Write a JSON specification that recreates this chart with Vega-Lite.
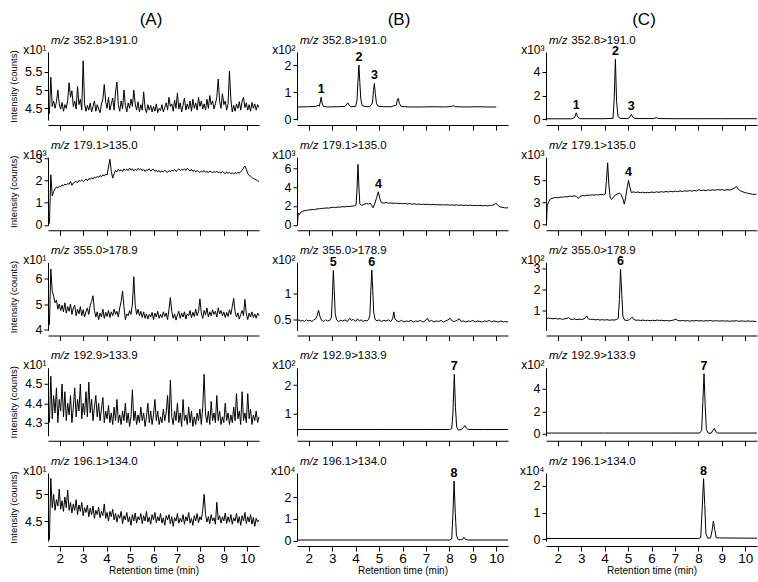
{
"$schema":"https://vega.github.io/schema/vega-lite/v6.json",
"padding":{"left":8,"top":10,"right":2,"bottom":5},
"background":"white",
"config":{
 "font":"Liberation Sans",
 "view":{"stroke":null},
 "mark":{"color":"#000"},
 "line":{"strokeWidth":1,"color":"#000"},
 "text":{"fontWeight":"bold","fontSize":12.5,"baseline":"alphabetic","dy":-4,"align":"center","color":"#000"},
 "axis":{"grid":false,"domainColor":"#000","tickColor":"#000","labelColor":"#000","titleColor":"#000","titleFontWeight":"normal","domainWidth":1,"tickWidth":1},
 "axisX":{"offset":5,"tickSize":5,"labelFontSize":13.5,"labelPadding":0,"titleFontSize":10,"titlePadding":1},
 "axisY":{"tickSize":4,"labelFontSize":12.5,"labelPadding":2,"format":"~g","titleFontSize":12},
 "title":{"anchor":"start","frame":"group","fontSize":11.5,"fontStyle":"italic","fontWeight":"normal","color":"#000","subtitleFontSize":11.5,"subtitleFontStyle":"normal","subtitleColor":"#000","subtitlePadding":-11.5,"dx":3,"offset":-3}
},
"spacing":9,
"hconcat":[
{"title":{"text":"(A)","anchor":"middle","fontSize":17,"fontStyle":"normal","dx":103,"offset":6,"frame":"group"},
 "spacing":37.25,"bounds":"flush",
 "vconcat":[
 {"width":211,"height":68,"title":{"text":"m/z","subtitle":"\u200b\u00a0\u00a0\u00a0\u00a0\u00a0\u00a0\u00a0352.8>191.0"},
  "encoding":{"x":{"field":"t","type":"quantitative","scale":{"domain":[1.5,10.5],"nice":false,"zero":false},"axis":{"values":[2,3,4,5,6,7,8,9,10],"labels":false,"title":null}}},
  "layer":[
   {"data":{"name":"a1"},"mark":"line","encoding":{"y":{"field":"v","type":"quantitative","scale":{"domain":[4.18,6.04],"nice":false,"zero":false},"axis":{"values":[4.5,5,5.5],"title":"x10¹","titleAngle":0,"titleAlign":"right","titleBaseline":"alphabetic","titleX":-2,"titleY":1}}}},
   {"data":{"name":"a1"},"mark":{"type":"line","strokeOpacity":0},"encoding":{"y":{"field":"v","type":"quantitative","scale":{"domain":[4.18,6.04],"nice":false,"zero":false},"axis":{"orient":"left","title":"Intensity (counts)","labels":false,"ticks":false,"domain":false,"titleAngle":-90,"titleX":-30,"titleY":34,"titleAlign":"center","titleBaseline":"bottom","titleFontSize":9.5}}}}
  ],
  "resolve":{"axis":{"y":"independent"}}},
 {"width":211,"height":68,"title":{"text":"m/z","subtitle":"\u200b\u00a0\u00a0\u00a0\u00a0\u00a0\u00a0\u00a0179.1>135.0"},
  "encoding":{"x":{"field":"t","type":"quantitative","scale":{"domain":[1.5,10.5],"nice":false,"zero":false},"axis":{"values":[2,3,4,5,6,7,8,9,10],"labels":false,"title":null}}},
  "layer":[
   {"data":{"name":"a2"},"mark":"line","encoding":{"y":{"field":"v","type":"quantitative","scale":{"domain":[-0.02,3.04],"nice":false,"zero":false},"axis":{"values":[0,1,2,3],"title":"x10³","titleAngle":0,"titleAlign":"right","titleBaseline":"alphabetic","titleX":-2,"titleY":1}}}},
   {"data":{"name":"a2"},"mark":{"type":"line","strokeOpacity":0},"encoding":{"y":{"field":"v","type":"quantitative","scale":{"domain":[-0.02,3.04],"nice":false,"zero":false},"axis":{"orient":"left","title":"Intensity (counts)","labels":false,"ticks":false,"domain":false,"titleAngle":-90,"titleX":-30,"titleY":34,"titleAlign":"center","titleBaseline":"bottom","titleFontSize":9.5}}}}
  ],
  "resolve":{"axis":{"y":"independent"}}},
 {"width":211,"height":68,"title":{"text":"m/z","subtitle":"\u200b\u00a0\u00a0\u00a0\u00a0\u00a0\u00a0\u00a0355.0>178.9"},
  "encoding":{"x":{"field":"t","type":"quantitative","scale":{"domain":[1.5,10.5],"nice":false,"zero":false},"axis":{"values":[2,3,4,5,6,7,8,9,10],"labels":false,"title":null}}},
  "layer":[
   {"data":{"name":"a3"},"mark":"line","encoding":{"y":{"field":"v","type":"quantitative","scale":{"domain":[3.98,6.6],"nice":false,"zero":false},"axis":{"values":[4,5,6],"title":"x10¹","titleAngle":0,"titleAlign":"right","titleBaseline":"alphabetic","titleX":-2,"titleY":1}}}},
   {"data":{"name":"a3"},"mark":{"type":"line","strokeOpacity":0},"encoding":{"y":{"field":"v","type":"quantitative","scale":{"domain":[3.98,6.6],"nice":false,"zero":false},"axis":{"orient":"left","title":"Intensity (counts)","labels":false,"ticks":false,"domain":false,"titleAngle":-90,"titleX":-30,"titleY":34,"titleAlign":"center","titleBaseline":"bottom","titleFontSize":9.5}}}}
  ],
  "resolve":{"axis":{"y":"independent"}}},
 {"width":211,"height":68,"title":{"text":"m/z","subtitle":"\u200b\u00a0\u00a0\u00a0\u00a0\u00a0\u00a0\u00a0192.9>133.9"},
  "encoding":{"x":{"field":"t","type":"quantitative","scale":{"domain":[1.5,10.5],"nice":false,"zero":false},"axis":{"values":[2,3,4,5,6,7,8,9,10],"labels":false,"title":null}}},
  "layer":[
   {"data":{"name":"a4"},"mark":"line","encoding":{"y":{"field":"v","type":"quantitative","scale":{"domain":[4.232,4.584],"nice":false,"zero":false},"axis":{"values":[4.3,4.4,4.5],"title":"x10¹","titleAngle":0,"titleAlign":"right","titleBaseline":"alphabetic","titleX":-2,"titleY":1}}}},
   {"data":{"name":"a4"},"mark":{"type":"line","strokeOpacity":0},"encoding":{"y":{"field":"v","type":"quantitative","scale":{"domain":[4.232,4.584],"nice":false,"zero":false},"axis":{"orient":"left","title":"Intensity (counts)","labels":false,"ticks":false,"domain":false,"titleAngle":-90,"titleX":-30,"titleY":34,"titleAlign":"center","titleBaseline":"bottom","titleFontSize":9.5}}}}
  ],
  "resolve":{"axis":{"y":"independent"}}},
 {"width":211,"height":68,"title":{"text":"m/z","subtitle":"\u200b\u00a0\u00a0\u00a0\u00a0\u00a0\u00a0\u00a0196.1>134.0"},
  "encoding":{"x":{"field":"t","type":"quantitative","scale":{"domain":[1.5,10.5],"nice":false,"zero":false},"axis":{"values":[2,3,4,5,6,7,8,9,10],"title":"Retention time (min)"}}},
  "layer":[
   {"data":{"name":"a5"},"mark":"line","encoding":{"y":{"field":"v","type":"quantitative","scale":{"domain":[4.125,5.4],"nice":false,"zero":false},"axis":{"values":[4.5,5],"title":"x10¹","titleAngle":0,"titleAlign":"right","titleBaseline":"alphabetic","titleX":-2,"titleY":1}}}},
   {"data":{"name":"a5"},"mark":{"type":"line","strokeOpacity":0},"encoding":{"y":{"field":"v","type":"quantitative","scale":{"domain":[4.125,5.4],"nice":false,"zero":false},"axis":{"orient":"left","title":"Intensity (counts)","labels":false,"ticks":false,"domain":false,"titleAngle":-90,"titleX":-30,"titleY":34,"titleAlign":"center","titleBaseline":"bottom","titleFontSize":9.5}}}}
  ],
  "resolve":{"axis":{"y":"independent"}}}
 ]},
{"title":{"text":"(B)","anchor":"middle","fontSize":17,"fontStyle":"normal","dx":102,"offset":6,"frame":"group"},
 "spacing":37.25,"bounds":"flush",
 "vconcat":[
 {"width":211,"height":68,"title":{"text":"m/z","subtitle":"\u200b\u00a0\u00a0\u00a0\u00a0\u00a0\u00a0\u00a0352.8>191.0"},
  "encoding":{"x":{"field":"t","type":"quantitative","scale":{"domain":[1.5,10.5],"nice":false,"zero":false},"axis":{"values":[2,3,4,5,6,7,8,9,10],"labels":false,"title":null}},
   "y":{"field":"v","type":"quantitative","scale":{"domain":[-0.03,2.48],"nice":false,"zero":false},"axis":{"values":[0,1,2],"title":"x10²","titleAngle":0,"titleAlign":"right","titleBaseline":"alphabetic","titleX":-2,"titleY":1}}},
  "layer":[{"data":{"name":"b1"},"mark":"line"},{"data":{"name":"b1L"},"mark":"text","encoding":{"text":{"field":"lab"}}}]},
 {"width":211,"height":68,"title":{"text":"m/z","subtitle":"\u200b\u00a0\u00a0\u00a0\u00a0\u00a0\u00a0\u00a0179.1>135.0"},
  "encoding":{"x":{"field":"t","type":"quantitative","scale":{"domain":[1.5,10.5],"nice":false,"zero":false},"axis":{"values":[2,3,4,5,6,7,8,9,10],"labels":false,"title":null}},
   "y":{"field":"v","type":"quantitative","scale":{"domain":[-0.05,7.15],"nice":false,"zero":false},"axis":{"values":[0,2,4,6],"title":"x10³","titleAngle":0,"titleAlign":"right","titleBaseline":"alphabetic","titleX":-2,"titleY":1}}},
  "layer":[{"data":{"name":"b2"},"mark":"line"},{"data":{"name":"b2L"},"mark":"text","encoding":{"text":{"field":"lab"}}}]},
 {"width":211,"height":68,"title":{"text":"m/z","subtitle":"\u200b\u00a0\u00a0\u00a0\u00a0\u00a0\u00a0\u00a0355.0>178.9"},
  "encoding":{"x":{"field":"t","type":"quantitative","scale":{"domain":[1.5,10.5],"nice":false,"zero":false},"axis":{"values":[2,3,4,5,6,7,8,9,10],"labels":false,"title":null}},
   "y":{"field":"v","type":"quantitative","scale":{"domain":[0.3,1.58],"nice":false,"zero":false},"axis":{"values":[0.5,1],"title":"x10²","titleAngle":0,"titleAlign":"right","titleBaseline":"alphabetic","titleX":-2,"titleY":1}}},
  "layer":[{"data":{"name":"b3"},"mark":"line"},{"data":{"name":"b3L"},"mark":"text","encoding":{"text":{"field":"lab"}}}]},
 {"width":211,"height":68,"title":{"text":"m/z","subtitle":"\u200b\u00a0\u00a0\u00a0\u00a0\u00a0\u00a0\u00a0192.9>133.9"},
  "encoding":{"x":{"field":"t","type":"quantitative","scale":{"domain":[1.5,10.5],"nice":false,"zero":false},"axis":{"values":[2,3,4,5,6,7,8,9,10],"labels":false,"title":null}},
   "y":{"field":"v","type":"quantitative","scale":{"domain":[0.21,2.61],"nice":false,"zero":false},"axis":{"values":[1,2],"title":"x10²","titleAngle":0,"titleAlign":"right","titleBaseline":"alphabetic","titleX":-2,"titleY":1}}},
  "layer":[{"data":{"name":"b4"},"mark":"line"},{"data":{"name":"b4L"},"mark":"text","encoding":{"text":{"field":"lab"}}}]},
 {"width":211,"height":68,"title":{"text":"m/z","subtitle":"\u200b\u00a0\u00a0\u00a0\u00a0\u00a0\u00a0\u00a0196.1>134.0"},
  "encoding":{"x":{"field":"t","type":"quantitative","scale":{"domain":[1.5,10.5],"nice":false,"zero":false},"axis":{"values":[2,3,4,5,6,7,8,9,10],"title":"Retention time (min)"}},
   "y":{"field":"v","type":"quantitative","scale":{"domain":[-0.015,3.12],"nice":false,"zero":false},"axis":{"values":[0,1,2],"title":"x10⁴","titleAngle":0,"titleAlign":"right","titleBaseline":"alphabetic","titleX":-2,"titleY":1}}},
  "layer":[{"data":{"name":"b5"},"mark":"line"},{"data":{"name":"b5L"},"mark":"text","encoding":{"text":{"field":"lab"}}}]}
 ]},
{"title":{"text":"(C)","anchor":"middle","fontSize":17,"fontStyle":"normal","dx":98,"offset":6,"frame":"group"},
 "spacing":37.25,"bounds":"flush",
 "vconcat":[
 {"width":211,"height":68,"title":{"text":"m/z","subtitle":"\u200b\u00a0\u00a0\u00a0\u00a0\u00a0\u00a0\u00a0352.8>191.0"},
  "encoding":{"x":{"field":"t","type":"quantitative","scale":{"domain":[1.5,10.5],"nice":false,"zero":false},"axis":{"values":[2,3,4,5,6,7,8,9,10],"labels":false,"title":null}},
   "y":{"field":"v","type":"quantitative","scale":{"domain":[-0.06,5.66],"nice":false,"zero":false},"axis":{"values":[0,2,4],"title":"x10³","titleAngle":0,"titleAlign":"right","titleBaseline":"alphabetic","titleX":-2,"titleY":1}}},
  "layer":[{"data":{"name":"c1"},"mark":"line"},{"data":{"name":"c1L"},"mark":"text","encoding":{"text":{"field":"lab"}}}]},
 {"width":211,"height":68,"title":{"text":"m/z","subtitle":"\u200b\u00a0\u00a0\u00a0\u00a0\u00a0\u00a0\u00a0179.1>135.0"},
  "encoding":{"x":{"field":"t","type":"quantitative","scale":{"domain":[1.5,10.5],"nice":false,"zero":false},"axis":{"values":[2,3,4,5,6,7,8,9,10],"labels":false,"title":null}},
   "y":{"field":"v","type":"quantitative","scale":{"domain":[-0.1,7.63],"nice":false,"zero":false},"axis":{"values":[0,2.5,5],"title":"x10³","titleAngle":0,"titleAlign":"right","titleBaseline":"alphabetic","titleX":-2,"titleY":1}}},
  "layer":[{"data":{"name":"c2"},"mark":"line"},{"data":{"name":"c2L"},"mark":"text","encoding":{"text":{"field":"lab"}}}]},
 {"width":211,"height":68,"title":{"text":"m/z","subtitle":"\u200b\u00a0\u00a0\u00a0\u00a0\u00a0\u00a0\u00a0355.0>178.9"},
  "encoding":{"x":{"field":"t","type":"quantitative","scale":{"domain":[1.5,10.5],"nice":false,"zero":false},"axis":{"values":[2,3,4,5,6,7,8,9,10],"labels":false,"title":null}},
   "y":{"field":"v","type":"quantitative","scale":{"domain":[0.02,3.28],"nice":false,"zero":false},"axis":{"values":[1,2,3],"title":"x10²","titleAngle":0,"titleAlign":"right","titleBaseline":"alphabetic","titleX":-2,"titleY":1}}},
  "layer":[{"data":{"name":"c3"},"mark":"line"},{"data":{"name":"c3L"},"mark":"text","encoding":{"text":{"field":"lab"}}}]},
 {"width":211,"height":68,"title":{"text":"m/z","subtitle":"\u200b\u00a0\u00a0\u00a0\u00a0\u00a0\u00a0\u00a0192.9>133.9"},
  "encoding":{"x":{"field":"t","type":"quantitative","scale":{"domain":[1.5,10.5],"nice":false,"zero":false},"axis":{"values":[2,3,4,5,6,7,8,9,10],"labels":false,"title":null}},
   "y":{"field":"v","type":"quantitative","scale":{"domain":[-0.16,5.88],"nice":false,"zero":false},"axis":{"values":[0,2,4],"title":"x10²","titleAngle":0,"titleAlign":"right","titleBaseline":"alphabetic","titleX":-2,"titleY":1}}},
  "layer":[{"data":{"name":"c4"},"mark":"line"},{"data":{"name":"c4L"},"mark":"text","encoding":{"text":{"field":"lab"}}}]},
 {"width":211,"height":68,"title":{"text":"m/z","subtitle":"\u200b\u00a0\u00a0\u00a0\u00a0\u00a0\u00a0\u00a0196.1>134.0"},
  "encoding":{"x":{"field":"t","type":"quantitative","scale":{"domain":[1.5,10.5],"nice":false,"zero":false},"axis":{"values":[2,3,4,5,6,7,8,9,10],"title":"Retention time (min)"}},
   "y":{"field":"v","type":"quantitative","scale":{"domain":[-0.075,2.49],"nice":false,"zero":false},"axis":{"values":[0,1,2],"title":"x10⁴","titleAngle":0,"titleAlign":"right","titleBaseline":"alphabetic","titleX":-2,"titleY":1}}},
  "layer":[{"data":{"name":"c5"},"mark":"line"},{"data":{"name":"c5L"},"mark":"text","encoding":{"text":{"field":"lab"}}}]}
 ]}
],
"datasets":{
"a1":[{"t":1.56,"v":4.35},{"t":1.62,"v":5.35},{"t":1.68,"v":4.55},{"t":1.74,"v":4.7},{"t":1.8,"v":4.5},{"t":1.86,"v":4.68},{"t":1.92,"v":5},{"t":1.98,"v":4.62},{"t":2.04,"v":4.48},{"t":2.1,"v":4.66},
{"t":2.16,"v":4.42},{"t":2.22,"v":4.6},{"t":2.28,"v":4.5},{"t":2.34,"v":4.72},{"t":2.4,"v":5.2},{"t":2.46,"v":4.8},{"t":2.52,"v":4.98},{"t":2.58,"v":4.55},{"t":2.64,"v":4.7},{"t":2.7,"v":4.48},
{"t":2.76,"v":5.1},{"t":2.82,"v":4.6},{"t":2.88,"v":4.75},{"t":2.94,"v":4.45},{"t":3,"v":5.8},{"t":3.06,"v":4.62},{"t":3.12,"v":4.42},{"t":3.18,"v":4.58},{"t":3.24,"v":4.45},{"t":3.3,"v":4.64},
{"t":3.36,"v":4.4},{"t":3.42,"v":4.55},{"t":3.48,"v":4.7},{"t":3.54,"v":4.42},{"t":3.6,"v":4.6},{"t":3.66,"v":4.48},{"t":3.72,"v":4.38},{"t":3.78,"v":4.62},{"t":3.84,"v":4.75},{"t":3.9,"v":5.15},
{"t":3.96,"v":4.68},{"t":4.02,"v":4.5},{"t":4.08,"v":4.8},{"t":4.14,"v":4.45},{"t":4.2,"v":4.62},{"t":4.26,"v":4.78},{"t":4.32,"v":4.45},{"t":4.38,"v":4.95},{"t":4.44,"v":5.22},{"t":4.5,"v":4.6},
{"t":4.56,"v":4.42},{"t":4.62,"v":4.7},{"t":4.68,"v":4.48},{"t":4.74,"v":5},{"t":4.8,"v":4.58},{"t":4.86,"v":4.4},{"t":4.92,"v":4.65},{"t":4.98,"v":4.5},{"t":5.04,"v":4.75},{"t":5.1,"v":4.55},
{"t":5.16,"v":5},{"t":5.22,"v":4.62},{"t":5.28,"v":4.45},{"t":5.34,"v":4.68},{"t":5.4,"v":4.4},{"t":5.46,"v":4.6},{"t":5.52,"v":4.45},{"t":5.58,"v":4.95},{"t":5.64,"v":4.52},{"t":5.7,"v":4.38},
{"t":5.76,"v":4.6},{"t":5.82,"v":4.45},{"t":5.88,"v":4.58},{"t":5.94,"v":4.4},{"t":6,"v":4.55},{"t":6.06,"v":4.42},{"t":6.12,"v":4.62},{"t":6.18,"v":4.38},{"t":6.24,"v":4.5},{"t":6.3,"v":4.44},
{"t":6.36,"v":4.6},{"t":6.42,"v":4.4},{"t":6.48,"v":4.52},{"t":6.54,"v":4.65},{"t":6.6,"v":4.45},{"t":6.66,"v":4.8},{"t":6.72,"v":4.55},{"t":6.78,"v":4.62},{"t":6.84,"v":4.42},{"t":6.9,"v":4.72},
{"t":6.96,"v":4.5},{"t":7.02,"v":4.92},{"t":7.08,"v":4.48},{"t":7.14,"v":4.65},{"t":7.2,"v":4.4},{"t":7.26,"v":4.58},{"t":7.32,"v":4.78},{"t":7.38,"v":4.45},{"t":7.44,"v":4.62},{"t":7.5,"v":4.48},
{"t":7.56,"v":4.7},{"t":7.62,"v":4.42},{"t":7.68,"v":4.75},{"t":7.74,"v":4.5},{"t":7.8,"v":4.65},{"t":7.86,"v":4.45},{"t":7.92,"v":4.8},{"t":7.98,"v":4.55},{"t":8.04,"v":4.7},{"t":8.1,"v":4.48},
{"t":8.16,"v":4.62},{"t":8.22,"v":4.45},{"t":8.28,"v":4.75},{"t":8.34,"v":4.5},{"t":8.4,"v":4.85},{"t":8.46,"v":4.6},{"t":8.52,"v":4.7},{"t":8.58,"v":4.48},{"t":8.64,"v":4.62},{"t":8.7,"v":4.8},
{"t":8.76,"v":5.3},{"t":8.82,"v":4.7},{"t":8.88,"v":4.5},{"t":8.94,"v":4.9},{"t":9,"v":4.6},{"t":9.06,"v":4.7},{"t":9.12,"v":4.45},{"t":9.18,"v":4.62},{"t":9.24,"v":5.52},{"t":9.3,"v":4.75},
{"t":9.36,"v":4.4},{"t":9.42,"v":4.58},{"t":9.48,"v":4.42},{"t":9.54,"v":4.62},{"t":9.6,"v":4.5},{"t":9.66,"v":4.68},{"t":9.72,"v":4.45},{"t":9.78,"v":4.7},{"t":9.84,"v":4.8},{"t":9.9,"v":4.52},
{"t":9.96,"v":4.65},{"t":10.02,"v":4.45},{"t":10.08,"v":4.6},{"t":10.14,"v":4.42},{"t":10.2,"v":4.66},{"t":10.26,"v":4.5},{"t":10.32,"v":4.62},{"t":10.38,"v":4.45},{"t":10.44,"v":4.6},{"t":10.5,"v":4.52}],
"a2":[{"t":1.56,"v":0.05},{"t":1.62,"v":2.25},{"t":1.68,"v":1.3},{"t":1.74,"v":1.5},{"t":1.8,"v":1.62},{"t":1.86,"v":1.7},{"t":1.92,"v":1.66},{"t":1.98,"v":1.74},{"t":2.04,"v":1.72},{"t":2.1,"v":1.8},
{"t":2.16,"v":1.76},{"t":2.22,"v":1.83},{"t":2.28,"v":1.8},{"t":2.34,"v":1.86},{"t":2.4,"v":1.82},{"t":2.46,"v":1.95},{"t":2.52,"v":1.78},{"t":2.58,"v":1.88},{"t":2.64,"v":1.92},{"t":2.7,"v":1.95},
{"t":2.76,"v":1.9},{"t":2.82,"v":2},{"t":2.88,"v":1.96},{"t":2.94,"v":2.02},{"t":3,"v":1.94},{"t":3.06,"v":2},{"t":3.12,"v":2.06},{"t":3.18,"v":1.98},{"t":3.24,"v":2.08},{"t":3.3,"v":2.04},
{"t":3.36,"v":2.12},{"t":3.42,"v":2.06},{"t":3.48,"v":2.15},{"t":3.54,"v":2.1},{"t":3.6,"v":2.18},{"t":3.66,"v":2.14},{"t":3.72,"v":2.22},{"t":3.78,"v":2.16},{"t":3.84,"v":2.25},{"t":3.9,"v":2.2},
{"t":3.96,"v":2.28},{"t":4.02,"v":2.24},{"t":4.08,"v":2.6},{"t":4.14,"v":2.95},{"t":4.2,"v":2.4},{"t":4.26,"v":2.1},{"t":4.32,"v":2.3},{"t":4.38,"v":2.45},{"t":4.44,"v":2.38},{"t":4.5,"v":2.5},
{"t":4.56,"v":2.42},{"t":4.62,"v":2.48},{"t":4.68,"v":2.4},{"t":4.74,"v":2.52},{"t":4.8,"v":2.45},{"t":4.86,"v":2.5},{"t":4.92,"v":2.44},{"t":4.98,"v":2.55},{"t":5.04,"v":2.46},{"t":5.1,"v":2.52},
{"t":5.16,"v":2.42},{"t":5.22,"v":2.5},{"t":5.28,"v":2.45},{"t":5.34,"v":2.54},{"t":5.4,"v":2.48},{"t":5.46,"v":2.52},{"t":5.52,"v":2.44},{"t":5.58,"v":2.5},{"t":5.64,"v":2.4},{"t":5.7,"v":2.48},
{"t":5.76,"v":2.46},{"t":5.82,"v":2.52},{"t":5.88,"v":2.42},{"t":5.94,"v":2.48},{"t":6,"v":2.5},{"t":6.06,"v":2.4},{"t":6.12,"v":2.46},{"t":6.18,"v":2.38},{"t":6.24,"v":2.44},{"t":6.3,"v":2.36},
{"t":6.36,"v":2.42},{"t":6.42,"v":2.38},{"t":6.48,"v":2.45},{"t":6.54,"v":2.4},{"t":6.6,"v":2.36},{"t":6.66,"v":2.44},{"t":6.72,"v":2.4},{"t":6.78,"v":2.46},{"t":6.84,"v":2.42},{"t":6.9,"v":2.48},
{"t":6.96,"v":2.4},{"t":7.02,"v":2.46},{"t":7.08,"v":2.52},{"t":7.14,"v":2.44},{"t":7.2,"v":2.5},{"t":7.26,"v":2.46},{"t":7.32,"v":2.52},{"t":7.38,"v":2.44},{"t":7.44,"v":2.54},{"t":7.5,"v":2.48},
{"t":7.56,"v":2.42},{"t":7.62,"v":2.5},{"t":7.68,"v":2.4},{"t":7.74,"v":2.46},{"t":7.8,"v":2.38},{"t":7.86,"v":2.44},{"t":7.92,"v":2.4},{"t":7.98,"v":2.36},{"t":8.04,"v":2.42},{"t":8.1,"v":2.38},
{"t":8.16,"v":2.44},{"t":8.22,"v":2.36},{"t":8.28,"v":2.4},{"t":8.34,"v":2.35},{"t":8.4,"v":2.42},{"t":8.46,"v":2.38},{"t":8.52,"v":2.34},{"t":8.58,"v":2.4},{"t":8.64,"v":2.36},{"t":8.7,"v":2.42},
{"t":8.76,"v":2.34},{"t":8.82,"v":2.38},{"t":8.88,"v":2.32},{"t":8.94,"v":2.4},{"t":9,"v":2.35},{"t":9.06,"v":2.3},{"t":9.12,"v":2.38},{"t":9.18,"v":2.32},{"t":9.24,"v":2.36},{"t":9.3,"v":2.3},
{"t":9.36,"v":2.34},{"t":9.42,"v":2.28},{"t":9.48,"v":2.35},{"t":9.54,"v":2.3},{"t":9.6,"v":2.36},{"t":9.66,"v":2.32},{"t":9.72,"v":2.4},{"t":9.78,"v":2.45},{"t":9.84,"v":2.55},{"t":9.9,"v":2.65},
{"t":9.96,"v":2.5},{"t":10.02,"v":2.3},{"t":10.08,"v":2.22},{"t":10.14,"v":2.18},{"t":10.2,"v":2.12},{"t":10.26,"v":2.08},{"t":10.32,"v":2.05},{"t":10.38,"v":2.02},{"t":10.44,"v":1.98},{"t":10.5,"v":1.95}],
"a3":[{"t":1.56,"v":4.2},{"t":1.62,"v":6.35},{"t":1.68,"v":5.5},{"t":1.74,"v":5.3},{"t":1.8,"v":5.05},{"t":1.86,"v":5.15},{"t":1.92,"v":4.8},{"t":1.98,"v":5},{"t":2.04,"v":4.75},{"t":2.1,"v":4.95},
{"t":2.16,"v":4.7},{"t":2.22,"v":5.05},{"t":2.28,"v":4.65},{"t":2.34,"v":4.9},{"t":2.4,"v":4.72},{"t":2.46,"v":5},{"t":2.52,"v":4.6},{"t":2.58,"v":4.85},{"t":2.64,"v":4.95},{"t":2.7,"v":4.55},
{"t":2.76,"v":4.8},{"t":2.82,"v":4.62},{"t":2.88,"v":4.9},{"t":2.94,"v":4.55},{"t":3,"v":4.78},{"t":3.06,"v":4.5},{"t":3.12,"v":4.7},{"t":3.18,"v":4.85},{"t":3.24,"v":4.6},{"t":3.3,"v":4.95},
{"t":3.36,"v":5.1},{"t":3.42,"v":5.32},{"t":3.48,"v":4.75},{"t":3.54,"v":4.5},{"t":3.6,"v":4.7},{"t":3.66,"v":4.4},{"t":3.72,"v":4.65},{"t":3.78,"v":4.5},{"t":3.84,"v":4.8},{"t":3.9,"v":4.45},
{"t":3.96,"v":4.68},{"t":4.02,"v":4.52},{"t":4.08,"v":4.75},{"t":4.14,"v":4.48},{"t":4.2,"v":4.7},{"t":4.26,"v":4.55},{"t":4.32,"v":4.8},{"t":4.38,"v":4.6},{"t":4.44,"v":4.72},{"t":4.5,"v":4.5},
{"t":4.56,"v":4.85},{"t":4.62,"v":5.1},{"t":4.68,"v":5.5},{"t":4.74,"v":4.9},{"t":4.8,"v":4.4},{"t":4.86,"v":4.62},{"t":4.92,"v":4.55},{"t":4.98,"v":4.75},{"t":5.04,"v":4.6},{"t":5.1,"v":5},
{"t":5.16,"v":6.05},{"t":5.22,"v":4.95},{"t":5.28,"v":4.6},{"t":5.34,"v":4.8},{"t":5.4,"v":4.55},{"t":5.46,"v":4.72},{"t":5.52,"v":4.48},{"t":5.58,"v":4.7},{"t":5.64,"v":4.45},{"t":5.7,"v":4.62},
{"t":5.76,"v":4.42},{"t":5.82,"v":4.6},{"t":5.88,"v":4.5},{"t":5.94,"v":4.68},{"t":6,"v":4.4},{"t":6.06,"v":4.65},{"t":6.12,"v":4.5},{"t":6.18,"v":4.72},{"t":6.24,"v":4.45},{"t":6.3,"v":4.6},
{"t":6.36,"v":4.48},{"t":6.42,"v":4.7},{"t":6.48,"v":4.52},{"t":6.54,"v":4.65},{"t":6.6,"v":4.4},{"t":6.66,"v":4.78},{"t":6.72,"v":5.25},{"t":6.78,"v":4.7},{"t":6.84,"v":4.45},{"t":6.9,"v":4.62},
{"t":6.96,"v":4.38},{"t":7.02,"v":4.58},{"t":7.08,"v":4.72},{"t":7.14,"v":4.45},{"t":7.2,"v":4.65},{"t":7.26,"v":4.5},{"t":7.32,"v":4.7},{"t":7.38,"v":4.42},{"t":7.44,"v":4.62},{"t":7.5,"v":4.55},
{"t":7.56,"v":4.75},{"t":7.62,"v":4.48},{"t":7.68,"v":4.68},{"t":7.74,"v":4.52},{"t":7.8,"v":4.8},{"t":7.86,"v":4.55},{"t":7.92,"v":4.7},{"t":7.98,"v":5.2},{"t":8.04,"v":4.65},{"t":8.1,"v":4.45},
{"t":8.16,"v":4.75},{"t":8.22,"v":4.58},{"t":8.28,"v":4.85},{"t":8.34,"v":4.5},{"t":8.4,"v":4.7},{"t":8.46,"v":4.55},{"t":8.52,"v":4.78},{"t":8.58,"v":4.6},{"t":8.64,"v":4.72},{"t":8.7,"v":4.5},
{"t":8.76,"v":4.85},{"t":8.82,"v":4.62},{"t":8.88,"v":4.75},{"t":8.94,"v":4.55},{"t":9,"v":4.7},{"t":9.06,"v":4.48},{"t":9.12,"v":4.68},{"t":9.18,"v":4.52},{"t":9.24,"v":4.78},{"t":9.3,"v":4.6},
{"t":9.36,"v":4.9},{"t":9.42,"v":5.22},{"t":9.48,"v":4.7},{"t":9.54,"v":4.5},{"t":9.6,"v":4.66},{"t":9.66,"v":4.42},{"t":9.72,"v":4.6},{"t":9.78,"v":4.75},{"t":9.84,"v":4.55},{"t":9.9,"v":5.18},
{"t":9.96,"v":4.62},{"t":10.02,"v":4.4},{"t":10.08,"v":4.65},{"t":10.14,"v":4.5},{"t":10.2,"v":4.7},{"t":10.26,"v":4.48},{"t":10.32,"v":4.62},{"t":10.38,"v":4.45},{"t":10.44,"v":4.65},{"t":10.5,"v":4.55}],
"a4":[{"t":1.56,"v":4.3},{"t":1.62,"v":4.54},{"t":1.68,"v":4.32},{"t":1.74,"v":4.44},{"t":1.8,"v":4.35},{"t":1.86,"v":4.48},{"t":1.92,"v":4.3},{"t":1.98,"v":4.42},{"t":2.04,"v":4.36},{"t":2.1,"v":4.5},
{"t":2.16,"v":4.33},{"t":2.22,"v":4.46},{"t":2.28,"v":4.31},{"t":2.34,"v":4.4},{"t":2.4,"v":4.34},{"t":2.46,"v":4.44},{"t":2.52,"v":4.3},{"t":2.58,"v":4.38},{"t":2.64,"v":4.48},{"t":2.7,"v":4.33},
{"t":2.76,"v":4.42},{"t":2.82,"v":4.36},{"t":2.88,"v":4.5},{"t":2.94,"v":4.32},{"t":3,"v":4.4},{"t":3.06,"v":4.34},{"t":3.12,"v":4.46},{"t":3.18,"v":4.33},{"t":3.24,"v":4.51},{"t":3.3,"v":4.35},
{"t":3.36,"v":4.42},{"t":3.42,"v":4.31},{"t":3.48,"v":4.38},{"t":3.54,"v":4.44},{"t":3.6,"v":4.33},{"t":3.66,"v":4.4},{"t":3.72,"v":4.31},{"t":3.78,"v":4.37},{"t":3.84,"v":4.43},{"t":3.9,"v":4.3},
{"t":3.96,"v":4.36},{"t":4.02,"v":4.32},{"t":4.08,"v":4.39},{"t":4.14,"v":4.3},{"t":4.2,"v":4.35},{"t":4.26,"v":4.29},{"t":4.32,"v":4.38},{"t":4.38,"v":4.31},{"t":4.44,"v":4.42},{"t":4.5,"v":4.3},
{"t":4.56,"v":4.34},{"t":4.62,"v":4.29},{"t":4.68,"v":4.36},{"t":4.74,"v":4.31},{"t":4.8,"v":4.4},{"t":4.86,"v":4.3},{"t":4.92,"v":4.35},{"t":4.98,"v":4.28},{"t":5.04,"v":4.33},{"t":5.1,"v":4.47},
{"t":5.16,"v":4.31},{"t":5.22,"v":4.36},{"t":5.28,"v":4.29},{"t":5.34,"v":4.34},{"t":5.4,"v":4.3},{"t":5.46,"v":4.38},{"t":5.52,"v":4.31},{"t":5.58,"v":4.35},{"t":5.64,"v":4.28},{"t":5.7,"v":4.33},
{"t":5.76,"v":4.4},{"t":5.82,"v":4.3},{"t":5.88,"v":4.36},{"t":5.94,"v":4.29},{"t":6,"v":4.34},{"t":6.06,"v":4.42},{"t":6.12,"v":4.31},{"t":6.18,"v":4.36},{"t":6.24,"v":4.29},{"t":6.3,"v":4.33},
{"t":6.36,"v":4.3},{"t":6.42,"v":4.37},{"t":6.48,"v":4.31},{"t":6.54,"v":4.35},{"t":6.6,"v":4.44},{"t":6.66,"v":4.3},{"t":6.72,"v":4.52},{"t":6.78,"v":4.33},{"t":6.84,"v":4.29},{"t":6.9,"v":4.36},
{"t":6.96,"v":4.31},{"t":7.02,"v":4.4},{"t":7.08,"v":4.3},{"t":7.14,"v":4.35},{"t":7.2,"v":4.28},{"t":7.26,"v":4.42},{"t":7.32,"v":4.31},{"t":7.38,"v":4.34},{"t":7.44,"v":4.29},{"t":7.5,"v":4.38},
{"t":7.56,"v":4.3},{"t":7.62,"v":4.36},{"t":7.68,"v":4.28},{"t":7.74,"v":4.33},{"t":7.8,"v":4.29},{"t":7.86,"v":4.35},{"t":7.92,"v":4.31},{"t":7.98,"v":4.37},{"t":8.04,"v":4.29},{"t":8.1,"v":4.38},
{"t":8.16,"v":4.55},{"t":8.22,"v":4.34},{"t":8.28,"v":4.3},{"t":8.34,"v":4.36},{"t":8.4,"v":4.29},{"t":8.46,"v":4.41},{"t":8.52,"v":4.31},{"t":8.58,"v":4.35},{"t":8.64,"v":4.3},{"t":8.7,"v":4.44},
{"t":8.76,"v":4.31},{"t":8.82,"v":4.36},{"t":8.88,"v":4.29},{"t":8.94,"v":4.33},{"t":9,"v":4.3},{"t":9.06,"v":4.4},{"t":9.12,"v":4.31},{"t":9.18,"v":4.35},{"t":9.24,"v":4.29},{"t":9.3,"v":4.34},
{"t":9.36,"v":4.3},{"t":9.42,"v":4.38},{"t":9.48,"v":4.31},{"t":9.54,"v":4.45},{"t":9.6,"v":4.32},{"t":9.66,"v":4.36},{"t":9.72,"v":4.29},{"t":9.78,"v":4.46},{"t":9.84,"v":4.31},{"t":9.9,"v":4.35},
{"t":9.96,"v":4.3},{"t":10.02,"v":4.45},{"t":10.08,"v":4.32},{"t":10.14,"v":4.37},{"t":10.2,"v":4.29},{"t":10.26,"v":4.34},{"t":10.32,"v":4.31},{"t":10.38,"v":4.36},{"t":10.44,"v":4.3},{"t":10.5,"v":4.33}],
"a5":[{"t":1.56,"v":4.15},{"t":1.62,"v":5.3},{"t":1.68,"v":4.75},{"t":1.74,"v":5},{"t":1.8,"v":4.7},{"t":1.86,"v":4.9},{"t":1.92,"v":4.78},{"t":1.98,"v":5.1},{"t":2.04,"v":4.72},{"t":2.1,"v":4.88},
{"t":2.16,"v":4.68},{"t":2.22,"v":4.95},{"t":2.28,"v":4.75},{"t":2.34,"v":5.08},{"t":2.4,"v":4.7},{"t":2.46,"v":4.85},{"t":2.52,"v":4.65},{"t":2.58,"v":4.82},{"t":2.64,"v":4.7},{"t":2.7,"v":4.9},
{"t":2.76,"v":4.62},{"t":2.82,"v":4.8},{"t":2.88,"v":4.68},{"t":2.94,"v":4.85},{"t":3,"v":4.6},{"t":3.06,"v":4.75},{"t":3.12,"v":4.66},{"t":3.18,"v":4.8},{"t":3.24,"v":4.58},{"t":3.3,"v":4.74},
{"t":3.36,"v":4.62},{"t":3.42,"v":4.78},{"t":3.48,"v":4.55},{"t":3.54,"v":4.7},{"t":3.6,"v":4.62},{"t":3.66,"v":4.76},{"t":3.72,"v":4.56},{"t":3.78,"v":4.68},{"t":3.84,"v":4.6},{"t":3.9,"v":4.82},
{"t":3.96,"v":4.55},{"t":4.02,"v":4.66},{"t":4.08,"v":4.5},{"t":4.14,"v":4.68},{"t":4.2,"v":4.58},{"t":4.26,"v":4.72},{"t":4.32,"v":4.52},{"t":4.38,"v":4.64},{"t":4.44,"v":4.48},{"t":4.5,"v":4.62},
{"t":4.56,"v":4.55},{"t":4.62,"v":4.68},{"t":4.68,"v":4.45},{"t":4.74,"v":4.6},{"t":4.8,"v":4.52},{"t":4.86,"v":4.66},{"t":4.92,"v":4.48},{"t":4.98,"v":4.58},{"t":5.04,"v":4.42},{"t":5.1,"v":4.62},
{"t":5.16,"v":4.5},{"t":5.22,"v":4.65},{"t":5.28,"v":4.46},{"t":5.34,"v":4.58},{"t":5.4,"v":4.52},{"t":5.46,"v":4.64},{"t":5.52,"v":4.45},{"t":5.58,"v":4.6},{"t":5.64,"v":4.5},{"t":5.7,"v":4.68},
{"t":5.76,"v":4.48},{"t":5.82,"v":4.57},{"t":5.88,"v":4.44},{"t":5.94,"v":4.62},{"t":6,"v":4.52},{"t":6.06,"v":4.66},{"t":6.12,"v":4.47},{"t":6.18,"v":4.58},{"t":6.24,"v":4.5},{"t":6.3,"v":4.64},
{"t":6.36,"v":4.46},{"t":6.42,"v":4.56},{"t":6.48,"v":4.42},{"t":6.54,"v":4.6},{"t":6.6,"v":4.52},{"t":6.66,"v":4.62},{"t":6.72,"v":4.45},{"t":6.78,"v":4.58},{"t":6.84,"v":4.4},{"t":6.9,"v":4.56},
{"t":6.96,"v":4.5},{"t":7.02,"v":4.64},{"t":7.08,"v":4.46},{"t":7.14,"v":4.55},{"t":7.2,"v":4.48},{"t":7.26,"v":4.62},{"t":7.32,"v":4.44},{"t":7.38,"v":4.58},{"t":7.44,"v":4.5},{"t":7.5,"v":4.66},
{"t":7.56,"v":4.46},{"t":7.62,"v":4.55},{"t":7.68,"v":4.42},{"t":7.74,"v":4.6},{"t":7.8,"v":4.5},{"t":7.86,"v":4.64},{"t":7.92,"v":4.47},{"t":7.98,"v":4.58},{"t":8.04,"v":4.52},{"t":8.1,"v":4.7},
{"t":8.16,"v":5},{"t":8.22,"v":4.62},{"t":8.28,"v":4.48},{"t":8.34,"v":4.58},{"t":8.4,"v":4.45},{"t":8.46,"v":4.62},{"t":8.52,"v":4.5},{"t":8.58,"v":4.56},{"t":8.64,"v":4.44},{"t":8.7,"v":4.85},
{"t":8.76,"v":4.52},{"t":8.82,"v":4.6},{"t":8.88,"v":4.46},{"t":8.94,"v":4.58},{"t":9,"v":4.5},{"t":9.06,"v":4.65},{"t":9.12,"v":4.45},{"t":9.18,"v":4.58},{"t":9.24,"v":4.48},{"t":9.3,"v":4.62},
{"t":9.36,"v":4.44},{"t":9.42,"v":4.56},{"t":9.48,"v":4.5},{"t":9.54,"v":4.64},{"t":9.6,"v":4.46},{"t":9.66,"v":4.58},{"t":9.72,"v":4.42},{"t":9.78,"v":4.6},{"t":9.84,"v":4.5},{"t":9.9,"v":4.66},
{"t":9.96,"v":4.45},{"t":10.02,"v":4.58},{"t":10.08,"v":4.48},{"t":10.14,"v":4.62},{"t":10.2,"v":4.44},{"t":10.26,"v":4.57},{"t":10.32,"v":4.4},{"t":10.38,"v":4.55},{"t":10.44,"v":4.48},{"t":10.5,"v":4.52}],
"b1":[{"t":1.5,"v":0.45},{"t":2,"v":0.46},{"t":2.3,"v":0.47},{"t":2.4,"v":0.52},{"t":2.45,"v":0.48},{"t":2.49,"v":0.62},{"t":2.53,"v":0.81},{"t":2.57,"v":0.6},{"t":2.62,"v":0.48},{"t":2.8,"v":0.45},{"t":3.2,"v":0.46},{"t":3.55,"v":0.47},{"t":3.62,"v":0.55},{"t":3.67,"v":0.6},{"t":3.72,"v":0.52},{"t":3.8,"v":0.46},{"t":4,"v":0.47},{"t":4.06,"v":0.7},{"t":4.1,"v":1.4},{"t":4.14,"v":2},{"t":4.18,"v":1.35},{"t":4.22,"v":0.75},{"t":4.28,"v":0.5},{"t":4.4,"v":0.47},{"t":4.6,"v":0.46},{"t":4.72,"v":0.6},{"t":4.76,"v":1.05},{"t":4.8,"v":1.32},{"t":4.84,"v":0.95},{"t":4.89,"v":0.58},{"t":4.96,"v":0.48},{"t":5.2,"v":0.46},{"t":5.5,"v":0.46},{"t":5.74,"v":0.52},{"t":5.78,"v":0.72},{"t":5.82,"v":0.77},{"t":5.87,"v":0.58},{"t":5.94,"v":0.47},{"t":6.3,"v":0.45},{"t":6.8,"v":0.45},{"t":7.3,"v":0.46},{"t":7.8,"v":0.45},{"t":8.1,"v":0.47},{"t":8.17,"v":0.5},{"t":8.25,"v":0.46},{"t":8.7,"v":0.45},{"t":9.2,"v":0.46},{"t":9.6,"v":0.45},{"t":10,"v":0.45}],
"b1L":[{"t":2.53,"v":0.81,"lab":"1"},{"t":4.14,"v":2,"lab":"2"},{"t":4.8,"v":1.32,"lab":"3"}],
"b2":[{"t":1.52,"v":0.1},{"t":1.55,"v":1.25},{"t":1.6,"v":1.05},{"t":1.65,"v":1.3},{"t":1.75,"v":1.45},{"t":1.85,"v":1.5},{"t":1.95,"v":1.55},{"t":2.05,"v":1.58},{"t":2.15,"v":1.62},{"t":2.25,"v":1.6},{"t":2.35,"v":1.68},{"t":2.45,"v":1.7},{"t":2.55,"v":1.72},{"t":2.65,"v":1.75},{"t":2.75,"v":1.78},{"t":2.85,"v":1.76},{"t":2.95,"v":1.82},{"t":3.05,"v":1.85},{"t":3.15,"v":1.83},{"t":3.25,"v":1.88},{"t":3.35,"v":1.86},{"t":3.45,"v":1.92},{"t":3.55,"v":1.9},{"t":3.65,"v":1.95},{"t":3.75,"v":1.93},{"t":3.85,"v":1.98},{"t":3.95,"v":2},{"t":4.02,"v":2.1},{"t":4.06,"v":3.8},{"t":4.1,"v":6.4},{"t":4.14,"v":4},{"t":4.18,"v":2.2},{"t":4.25,"v":2.05},{"t":4.35,"v":2.15},{"t":4.45,"v":2.25},{"t":4.55,"v":2.2},{"t":4.62,"v":2.3},{"t":4.7,"v":2},{"t":4.74,"v":1.8},{"t":4.8,"v":2.1},{"t":4.9,"v":2.9},{"t":4.97,"v":3.5},{"t":5.03,"v":2.8},{"t":5.1,"v":2.35},{"t":5.2,"v":2.3},{"t":5.3,"v":2.35},{"t":5.4,"v":2.28},{"t":5.5,"v":2.32},{"t":5.6,"v":2.26},{"t":5.7,"v":2.3},{"t":5.8,"v":2.24},{"t":5.9,"v":2.28},{"t":6,"v":2.22},{"t":6.1,"v":2.26},{"t":6.2,"v":2.2},{"t":6.3,"v":2.24},{"t":6.4,"v":2.18},{"t":6.5,"v":2.22},{"t":6.6,"v":2.16},{"t":6.7,"v":2.2},{"t":6.8,"v":2.15},{"t":6.9,"v":2.18},{"t":7,"v":2.14},{"t":7.1,"v":2.17},{"t":7.2,"v":2.12},{"t":7.3,"v":2.16},{"t":7.4,"v":2.11},{"t":7.5,"v":2.14},{"t":7.6,"v":2.1},{"t":7.7,"v":2.13},{"t":7.8,"v":2.09},{"t":7.9,"v":2.12},{"t":8,"v":2.08},{"t":8.1,"v":2.11},{"t":8.2,"v":2.07},{"t":8.3,"v":2.1},{"t":8.4,"v":2.06},{"t":8.5,"v":2.09},{"t":8.6,"v":2.05},{"t":8.7,"v":2.08},{"t":8.8,"v":2.04},{"t":8.9,"v":2.07},{"t":9,"v":2.03},{"t":9.1,"v":2.06},{"t":9.2,"v":2.02},{"t":9.3,"v":2.05},{"t":9.4,"v":2.01},{"t":9.5,"v":2.04},{"t":9.6,"v":2},{"t":9.7,"v":2.03},{"t":9.8,"v":2.05},{"t":9.9,"v":2.12},{"t":9.98,"v":2.3},{"t":10.05,"v":2.1},{"t":10.15,"v":1.9},{"t":10.25,"v":1.85},{"t":10.35,"v":1.8},{"t":10.45,"v":1.78},{"t":10.5,"v":1.82}],
"b2L":[{"t":4.97,"v":3.5,"lab":"4"}],
"b3":[{"t":1.5,"v":0.47},{"t":1.58,"v":0.5},{"t":1.66,"v":0.48},{"t":1.74,"v":0.49},{"t":1.82,"v":0.47},{"t":1.9,"v":0.5},{"t":1.98,"v":0.48},{"t":2.06,"v":0.49},{"t":2.14,"v":0.47},{"t":2.22,"v":0.5},{"t":2.3,"v":0.52},{"t":2.36,"v":0.58},{"t":2.42,"v":0.68},{"t":2.48,"v":0.56},{"t":2.55,"v":0.49},{"t":2.63,"v":0.47},{"t":2.72,"v":0.5},{"t":2.8,"v":0.48},{"t":2.9,"v":0.49},{"t":2.97,"v":0.55},{"t":3.01,"v":0.95},{"t":3.05,"v":1.43},{"t":3.09,"v":1.05},{"t":3.13,"v":0.62},{"t":3.19,"v":0.5},{"t":3.27,"v":0.47},{"t":3.35,"v":0.49},{"t":3.45,"v":0.48},{"t":3.55,"v":0.5},{"t":3.65,"v":0.47},{"t":3.75,"v":0.53},{"t":3.82,"v":0.49},{"t":3.9,"v":0.51},{"t":4,"v":0.47},{"t":4.08,"v":0.52},{"t":4.16,"v":0.48},{"t":4.24,"v":0.5},{"t":4.32,"v":0.47},{"t":4.4,"v":0.49},{"t":4.48,"v":0.48},{"t":4.56,"v":0.51},{"t":4.61,"v":0.6},{"t":4.65,"v":1.05},{"t":4.69,"v":1.44},{"t":4.73,"v":1.08},{"t":4.77,"v":0.65},{"t":4.83,"v":0.51},{"t":4.91,"v":0.48},{"t":5,"v":0.5},{"t":5.1,"v":0.47},{"t":5.2,"v":0.49},{"t":5.3,"v":0.48},{"t":5.4,"v":0.5},{"t":5.5,"v":0.47},{"t":5.58,"v":0.52},{"t":5.63,"v":0.65},{"t":5.68,"v":0.52},{"t":5.76,"v":0.48},{"t":5.86,"v":0.47},{"t":5.96,"v":0.49},{"t":6.06,"v":0.46},{"t":6.16,"v":0.48},{"t":6.26,"v":0.47},{"t":6.36,"v":0.49},{"t":6.46,"v":0.46},{"t":6.56,"v":0.48},{"t":6.66,"v":0.47},{"t":6.76,"v":0.49},{"t":6.86,"v":0.46},{"t":6.96,"v":0.48},{"t":7.06,"v":0.53},{"t":7.14,"v":0.47},{"t":7.24,"v":0.49},{"t":7.34,"v":0.46},{"t":7.44,"v":0.48},{"t":7.54,"v":0.47},{"t":7.64,"v":0.49},{"t":7.74,"v":0.46},{"t":7.84,"v":0.48},{"t":7.94,"v":0.5},{"t":8.03,"v":0.53},{"t":8.12,"v":0.48},{"t":8.22,"v":0.47},{"t":8.32,"v":0.49},{"t":8.42,"v":0.52},{"t":8.5,"v":0.47},{"t":8.6,"v":0.48},{"t":8.7,"v":0.46},{"t":8.8,"v":0.48},{"t":8.9,"v":0.47},{"t":9,"v":0.49},{"t":9.1,"v":0.46},{"t":9.2,"v":0.48},{"t":9.3,"v":0.47},{"t":9.4,"v":0.46},{"t":9.5,"v":0.48},{"t":9.6,"v":0.47},{"t":9.7,"v":0.49},{"t":9.8,"v":0.46},{"t":9.9,"v":0.48},{"t":10,"v":0.47},{"t":10.1,"v":0.46},{"t":10.2,"v":0.48},{"t":10.3,"v":0.46},{"t":10.4,"v":0.47},{"t":10.5,"v":0.46}],
"b3L":[{"t":3.05,"v":1.43,"lab":"5"},{"t":4.69,"v":1.44,"lab":"6"}],
"b4":[{"t":1.5,"v":0.43},{"t":3,"v":0.43},{"t":5,"v":0.43},{"t":7,"v":0.43},{"t":8,"v":0.43},{"t":8.1,"v":0.46},{"t":8.15,"v":1},{"t":8.21,"v":2.38},{"t":8.26,"v":1.2},{"t":8.31,"v":0.52},{"t":8.38,"v":0.41},{"t":8.5,"v":0.43},{"t":8.6,"v":0.5},{"t":8.66,"v":0.57},{"t":8.72,"v":0.48},{"t":8.8,"v":0.43},{"t":9.5,"v":0.43},{"t":10.5,"v":0.43}],
"b4L":[{"t":8.21,"v":2.38,"lab":"7"}],
"b5":[{"t":1.5,"v":0.03},{"t":5,"v":0.03},{"t":8,"v":0.03},{"t":8.1,"v":0.08},{"t":8.15,"v":1.2},{"t":8.2,"v":2.75},{"t":8.25,"v":1.3},{"t":8.3,"v":0.25},{"t":8.38,"v":0.04},{"t":8.55,"v":0.05},{"t":8.62,"v":0.16},{"t":8.68,"v":0.06},{"t":8.8,"v":0.03},{"t":10.5,"v":0.03}],
"b5L":[{"t":8.2,"v":2.75,"lab":"8"}],
"c1":[{"t":1.5,"v":0.04},{"t":2.6,"v":0.04},{"t":2.72,"v":0.15},{"t":2.79,"v":0.55},{"t":2.85,"v":0.2},{"t":2.95,"v":0.05},{"t":4,"v":0.05},{"t":4.36,"v":0.08},{"t":4.41,"v":1.8},{"t":4.46,"v":5.05},{"t":4.51,"v":1.5},{"t":4.57,"v":0.25},{"t":4.65,"v":0.08},{"t":5,"v":0.06},{"t":5.08,"v":0.2},{"t":5.14,"v":0.42},{"t":5.2,"v":0.18},{"t":5.3,"v":0.06},{"t":6.1,"v":0.06},{"t":6.2,"v":0.14},{"t":6.3,"v":0.06},{"t":7,"v":0.05},{"t":8,"v":0.05},{"t":9,"v":0.05},{"t":10.5,"v":0.05}],
"c1L":[{"t":2.79,"v":0.55,"lab":"1"},{"t":4.46,"v":5.05,"lab":"2"},{"t":5.14,"v":0.42,"lab":"3"}],
"c2":[{"t":1.52,"v":0.05},{"t":1.55,"v":2.1},{"t":1.62,"v":2.6},{"t":1.7,"v":2.9},{"t":1.8,"v":3},{"t":1.9,"v":3.05},{"t":2,"v":3.02},{"t":2.1,"v":3.1},{"t":2.2,"v":3.08},{"t":2.3,"v":3.15},{"t":2.4,"v":3.12},{"t":2.5,"v":3.2},{"t":2.6,"v":3.18},{"t":2.7,"v":3.25},{"t":2.8,"v":3.15},{"t":2.88,"v":2.95},{"t":2.96,"v":3.2},{"t":3.05,"v":3.28},{"t":3.15,"v":3.25},{"t":3.25,"v":3.32},{"t":3.35,"v":3.3},{"t":3.45,"v":3.36},{"t":3.55,"v":3.32},{"t":3.65,"v":3.38},{"t":3.75,"v":3.34},{"t":3.85,"v":3.4},{"t":3.95,"v":3.36},{"t":4.03,"v":3.45},{"t":4.08,"v":5},{"t":4.13,"v":7},{"t":4.18,"v":4.5},{"t":4.24,"v":3},{"t":4.3,"v":2.85},{"t":4.38,"v":3.1},{"t":4.46,"v":3.35},{"t":4.54,"v":3.45},{"t":4.62,"v":3.55},{"t":4.7,"v":3.4},{"t":4.78,"v":2.9},{"t":4.84,"v":2.3},{"t":4.9,"v":3.1},{"t":4.97,"v":4.3},{"t":5.02,"v":5},{"t":5.08,"v":4.2},{"t":5.14,"v":3.6},{"t":5.22,"v":3.7},{"t":5.32,"v":3.62},{"t":5.42,"v":3.68},{"t":5.52,"v":3.6},{"t":5.62,"v":3.66},{"t":5.72,"v":3.58},{"t":5.82,"v":3.64},{"t":5.92,"v":3.6},{"t":6.02,"v":3.68},{"t":6.12,"v":3.62},{"t":6.22,"v":3.7},{"t":6.32,"v":3.64},{"t":6.42,"v":3.72},{"t":6.52,"v":3.66},{"t":6.62,"v":3.74},{"t":6.72,"v":3.68},{"t":6.82,"v":3.76},{"t":6.92,"v":3.7},{"t":7.02,"v":3.78},{"t":7.12,"v":3.72},{"t":7.22,"v":3.8},{"t":7.32,"v":3.74},{"t":7.42,"v":3.82},{"t":7.52,"v":3.76},{"t":7.62,"v":3.84},{"t":7.72,"v":3.78},{"t":7.82,"v":3.86},{"t":7.92,"v":3.8},{"t":8.02,"v":3.95},{"t":8.12,"v":3.84},{"t":8.22,"v":3.9},{"t":8.32,"v":3.82},{"t":8.42,"v":3.92},{"t":8.52,"v":3.86},{"t":8.62,"v":3.94},{"t":8.72,"v":3.88},{"t":8.82,"v":3.96},{"t":8.92,"v":3.9},{"t":9.02,"v":3.95},{"t":9.12,"v":3.88},{"t":9.22,"v":3.94},{"t":9.32,"v":3.9},{"t":9.42,"v":3.98},{"t":9.52,"v":4.1},{"t":9.62,"v":4.3},{"t":9.7,"v":4},{"t":9.8,"v":3.8},{"t":9.9,"v":3.7},{"t":10,"v":3.6},{"t":10.1,"v":3.55},{"t":10.2,"v":3.48},{"t":10.3,"v":3.42},{"t":10.4,"v":3.4},{"t":10.48,"v":3.45}],
"c2L":[{"t":5.02,"v":5,"lab":"4"}],
"c3":[{"t":1.52,"v":0.58},{"t":1.6,"v":0.62},{"t":1.7,"v":0.6},{"t":1.8,"v":0.58},{"t":1.9,"v":0.6},{"t":2,"v":0.57},{"t":2.1,"v":0.59},{"t":2.2,"v":0.56},{"t":2.3,"v":0.58},{"t":2.4,"v":0.6},{"t":2.46,"v":0.64},{"t":2.52,"v":0.57},{"t":2.62,"v":0.55},{"t":2.72,"v":0.57},{"t":2.82,"v":0.54},{"t":2.92,"v":0.56},{"t":3.02,"v":0.55},{"t":3.12,"v":0.58},{"t":3.18,"v":0.62},{"t":3.24,"v":0.72},{"t":3.3,"v":0.58},{"t":3.4,"v":0.55},{"t":3.5,"v":0.56},{"t":3.6,"v":0.53},{"t":3.7,"v":0.55},{"t":3.8,"v":0.52},{"t":3.9,"v":0.54},{"t":4,"v":0.52},{"t":4.1,"v":0.54},{"t":4.2,"v":0.51},{"t":4.3,"v":0.53},{"t":4.4,"v":0.52},{"t":4.5,"v":0.54},{"t":4.58,"v":0.6},{"t":4.63,"v":1.5},{"t":4.68,"v":2.95},{"t":4.73,"v":1.8},{"t":4.78,"v":0.7},{"t":4.85,"v":0.52},{"t":4.95,"v":0.5},{"t":5.05,"v":0.53},{"t":5.12,"v":0.6},{"t":5.18,"v":0.66},{"t":5.24,"v":0.55},{"t":5.34,"v":0.51},{"t":5.44,"v":0.52},{"t":5.54,"v":0.5},{"t":5.64,"v":0.52},{"t":5.74,"v":0.49},{"t":5.84,"v":0.51},{"t":5.94,"v":0.49},{"t":6.04,"v":0.51},{"t":6.14,"v":0.49},{"t":6.24,"v":0.52},{"t":6.34,"v":0.5},{"t":6.44,"v":0.51},{"t":6.54,"v":0.49},{"t":6.64,"v":0.5},{"t":6.74,"v":0.48},{"t":6.84,"v":0.5},{"t":6.94,"v":0.52},{"t":7.04,"v":0.56},{"t":7.12,"v":0.5},{"t":7.22,"v":0.48},{"t":7.32,"v":0.5},{"t":7.42,"v":0.48},{"t":7.52,"v":0.49},{"t":7.62,"v":0.47},{"t":7.72,"v":0.49},{"t":7.82,"v":0.48},{"t":7.92,"v":0.5},{"t":8.02,"v":0.48},{"t":8.12,"v":0.49},{"t":8.22,"v":0.47},{"t":8.32,"v":0.49},{"t":8.42,"v":0.48},{"t":8.52,"v":0.5},{"t":8.62,"v":0.47},{"t":8.72,"v":0.49},{"t":8.82,"v":0.48},{"t":8.92,"v":0.47},{"t":9.02,"v":0.49},{"t":9.12,"v":0.47},{"t":9.22,"v":0.48},{"t":9.32,"v":0.46},{"t":9.42,"v":0.48},{"t":9.52,"v":0.47},{"t":9.62,"v":0.49},{"t":9.72,"v":0.46},{"t":9.82,"v":0.48},{"t":9.92,"v":0.47},{"t":10.02,"v":0.46},{"t":10.12,"v":0.48},{"t":10.22,"v":0.46},{"t":10.32,"v":0.47},{"t":10.42,"v":0.45},{"t":10.48,"v":0.46}],
"c3L":[{"t":4.68,"v":2.95,"lab":"6"}],
"c4":[{"t":1.5,"v":0.08},{"t":4,"v":0.08},{"t":7,"v":0.08},{"t":8.05,"v":0.08},{"t":8.14,"v":0.3},{"t":8.19,"v":2.8},{"t":8.24,"v":5.35},{"t":8.29,"v":2.5},{"t":8.34,"v":0.4},{"t":8.42,"v":0.06},{"t":8.55,"v":0.08},{"t":8.63,"v":0.35},{"t":8.68,"v":0.5},{"t":8.74,"v":0.2},{"t":8.82,"v":0.08},{"t":10.5,"v":0.08}],
"c4L":[{"t":8.24,"v":5.35,"lab":"7"}],
"c5":[{"t":1.5,"v":0.02},{"t":5,"v":0.02},{"t":8,"v":0.02},{"t":8.1,"v":0.05},{"t":8.16,"v":1.1},{"t":8.22,"v":2.28},{"t":8.27,"v":1.3},{"t":8.32,"v":0.2},{"t":8.4,"v":0.03},{"t":8.52,"v":0.04},{"t":8.58,"v":0.3},{"t":8.64,"v":0.68},{"t":8.7,"v":0.35},{"t":8.76,"v":0.05},{"t":8.9,"v":0.04},{"t":10.5,"v":0.03}],
"c5L":[{"t":8.22,"v":2.28,"lab":"8"}]
}
}
